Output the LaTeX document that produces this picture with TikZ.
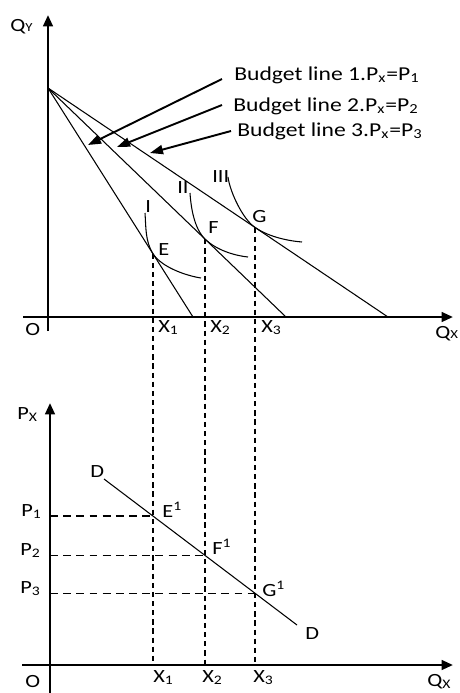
\documentclass[tikz,border=0pt]{standalone}
\usepackage{fontspec}
\setmainfont{Carlito}[FakeStretch=1.2]
\usetikzlibrary{arrows.meta,calc}

\begin{document}
\begin{tikzpicture}[x=0.2mm,y=-0.2mm,
  axis/.style={line width=1.4pt,-{Triangle[length=6.5pt,width=5.5pt]}},
  bline/.style={line width=0.6pt},
  icurve/.style={line width=0.6pt},
  pointer/.style={line width=1.1pt,-{Triangle[length=7.4pt,width=5.2pt]}},
  guide/.style={line width=1pt,dash pattern=on 3pt off 2.2pt},
  hguide/.style={line width=0.9pt,dash pattern=on 4.5pt off 3pt},
  lbl/.style={font=\fontsize{10.6}{12}\selectfont,inner sep=0pt,anchor=base west},
  blabel/.style={font=\fontsize{11.2}{13}\selectfont,inner sep=0pt,anchor=base west}
]
  \useasboundingbox (0,0) rectangle (459,693);

  % Top panel: axes
  \coordinate (O1) at (48,317);
  \coordinate (ytop) at (48,15);
  \coordinate (ybot) at (48,331);
  \coordinate (xleft) at (23,317);
  \coordinate (xright) at (453,317);
  \draw[axis] (ybot) -- (ytop);
  \draw[axis] (xleft) -- (xright);
  \node[lbl] (qy) at (10,31) {Q{\fontsize{7}{8}\selectfont Y}};
  \node[lbl] (o1) at (25,335) {O};
  \node[lbl] (qx1) at (435,338) {Q{\fontsize{7}{8}\selectfont X}};

  % Budget lines
  \coordinate (A) at (48,88);
  \coordinate (B1) at (193,317);
  \coordinate (B2) at (286,317);
  \coordinate (B3) at (388,317);
  \draw[bline] (A) -- (B1);
  \draw[bline] (A) -- (B2);
  \draw[bline] (A) -- (B3);

  % Tangency points
  \coordinate (E) at ($(A)!0.724!(B1)$);
  \coordinate (F) at ($(A)!0.66!(B2)$);
  \coordinate (G) at ($(A)!0.609!(B3)$);

  % Indifference curves
  \draw[icurve] (145,213) .. controls (146,226) and (145,241.1) .. (E)
    .. controls (162.6,268.2) and (188,276) .. (201,278);
  \draw[icurve] (190,193) .. controls (191,208) and (194.3,228.7) .. (F)
    .. controls (218.1,251.6) and (238,256) .. (248,257);
  \draw[icurve] (228,177) .. controls (230,192) and (242.7,219.1) .. (G)
    .. controls (270,237.6) and (290,241) .. (302,242);
  \node[lbl] (ic1) at (145,212) {I};
  \node[lbl] (ic2) at (177,193) {II};
  \node[lbl] (ic3) at (212,182) {III};
  \node[lbl] (lE) at (158,255) {E};
  \node[lbl] (lF) at (208,233) {F};
  \node[lbl] (lG) at (252,222) {G};

  % Budget line captions
  \node[blabel] (bl1) at (234,80) {Budget line 1.P\textsubscript{x}=P\textsubscript{1}};
  \node[blabel] (bl2) at (233,111) {Budget line 2.P\textsubscript{x}=P\textsubscript{2}};
  \node[blabel] (bl3) at (237,136) {Budget line 3.P\textsubscript{x}=P\textsubscript{3}};
  \coordinate (s1) at (222,79);
  \coordinate (s2) at (222,105);
  \coordinate (s3) at (231,131);
  \coordinate (t1) at (88,145);
  \coordinate (t2) at (117,147);
  \coordinate (t3) at (150,153);
  \draw[pointer] (s1) -- (t1);
  \draw[pointer] (s2) -- (t2);
  \draw[pointer] (s3) -- (t3);

  \node[lbl] (x1t) at (158,332) {X\textsubscript{1}};
  \node[lbl] (x2t) at (210,332) {X\textsubscript{2}};
  \node[lbl] (x3t) at (261,332) {X\textsubscript{3}};

  % Bottom panel: axes
  \coordinate (O2) at (50,665);
  \coordinate (ptop) at (50,403);
  \coordinate (pbot) at (50,693);
  \coordinate (qleft) at (22,665);
  \coordinate (qright) at (453,665);
  \draw[axis] (pbot) -- (ptop);
  \draw[axis] (qleft) -- (qright);
  \node[lbl] (px) at (17,419) {P\textsubscript{X}};
  \node[lbl] (o2) at (25,687) {O};
  \node[lbl] (qx2) at (427,686) {Q\textsubscript{X}};

  % Demand curve
  \coordinate (D1) at (104,479);
  \coordinate (D2) at (297,625);
  \draw[bline] (D1) -- (D2);
  \coordinate (E1) at ($(D1)!0.254!(D2)$);
  \coordinate (F1) at ($(D1)!0.524!(D2)$);
  \coordinate (G1) at ($(D1)!0.783!(D2)$);
  \node[lbl] (dtop) at (90,477) {D};
  \node[lbl] (dbot) at (305,639) {D};
  \node[lbl] (lE1) at (162,517) {E\textsuperscript{1}};
  \node[lbl] (lF1) at (212,554) {F\textsuperscript{1}};
  \node[lbl] (lG1) at (262,596) {G\textsuperscript{1}};

  % Guides
  \draw[guide] (E) -- (E |- O2);
  \draw[guide] (F) -- (F |- O2);
  \draw[guide] (G) -- (G |- O2);
  \draw[hguide] (E1 -| O2) -- (E1);
  \draw[hguide] (F1 -| O2) -- (F1);
  \draw[hguide] (G1 -| O2) -- (G1);
  \node[lbl] (p1) at (21,516) {P\textsubscript{1}};
  \node[lbl] (p2) at (20,555) {P\textsubscript{2}};
  \node[lbl] (p3) at (20,593) {P\textsubscript{3}};

  \node[lbl] (x1b) at (153,682) {X\textsubscript{1}};
  \node[lbl] (x2b) at (202,682) {X\textsubscript{2}};
  \node[lbl] (x3b) at (253,682) {X\textsubscript{3}};
\end{tikzpicture}
\end{document}
